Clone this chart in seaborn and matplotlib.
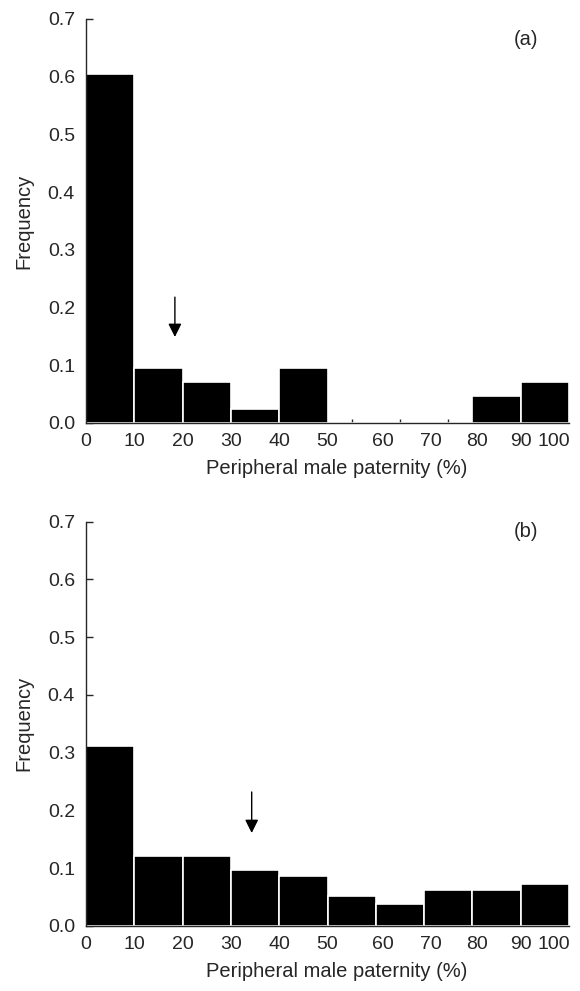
import numpy as np
import matplotlib
matplotlib.use("Agg")
import matplotlib.pyplot as plt
import matplotlib.transforms as mtransforms
import seaborn as sns

# bin edges of peripheral male paternity (%)
bin_edges = [0, 10, 20, 30, 40, 50, 60, 70, 80, 90, 100]
bin_mids = [5, 15, 25, 35, 45, 55, 65, 75, 85, 95]

# relative frequencies
freq_a = [0.605, 0.095, 0.071, 0.024, 0.095, 0.0, 0.0, 0.0, 0.047, 0.071]
freq_b = [0.312, 0.121, 0.121, 0.097, 0.087, 0.052, 0.038, 0.062, 0.062, 0.073]

# mean paternity arrows (x, y-top, y-tip)
arrow_a = (18.4, 0.218, 0.149)
arrow_b = (34.3, 0.232, 0.161)

panel_labels = ["(a)", "(b)"]
x_ticks = [0, 10, 20, 30, 40, 50, 60, 70, 80, 90, 100]
y_ticks = [0.0, 0.1, 0.2, 0.3, 0.4, 0.5, 0.6, 0.7]

sns.set_style("ticks")
plt.rcParams["font.family"] = ["Liberation Sans", "DejaVu Sans"]
plt.rcParams["font.size"] = 14

fig = plt.figure(figsize=(5.8, 9.91), dpi=100)
ax_a = fig.add_axes([0.1483, 0.5732, 0.8328, 0.4077])
ax_b = fig.add_axes([0.1483, 0.0656, 0.8328, 0.4080])

panels = [
    (ax_a, freq_a, arrow_a, panel_labels[0], 0.664),
    (ax_b, freq_b, arrow_b, panel_labels[1], 0.683),
]

# small horizontal nudges of some tick labels, as in the original (points)
label_shift = {60: 5, 70: 5, 80: 3}

for ax, freq, arrow, label, label_y in panels:
    sns.histplot(
        x=bin_mids, weights=freq, bins=bin_edges, ax=ax,
        color="black", edgecolor="white", linewidth=1.2, alpha=1.0,
    )
    ax.set_xlim(0, 100)
    ax.set_ylim(0, 0.7)
    ax.set_xticks(x_ticks)
    ax.set_xticklabels([str(t) for t in x_ticks])
    ax.set_xticks(bin_mids, minor=True)
    ax.set_yticks(y_ticks)
    ax.set_yticklabels([f"{v:.1f}" for v in y_ticks])
    ax.tick_params(axis="x", which="major", length=0, pad=7, labelsize=14)
    ax.tick_params(axis="x", which="minor", direction="in", length=3, width=1)
    ax.tick_params(axis="y", direction="in", length=5, width=1, pad=8, labelsize=14)
    for t, lab in zip(x_ticks, ax.get_xticklabels()):
        if t == 100:
            lab.set_horizontalalignment("right")
            lab.set_transform(lab.get_transform() + mtransforms.ScaledTranslation(
                1 / 72, 0, fig.dpi_scale_trans))
        elif t in label_shift:
            lab.set_transform(lab.get_transform() + mtransforms.ScaledTranslation(
                label_shift[t] / 72, 0, fig.dpi_scale_trans))
    for side in ["left", "bottom"]:
        ax.spines[side].set_linewidth(1.0)
    sns.despine(ax=ax)
    ax.set_xlabel("Peripheral male paternity (%)", fontsize=14.5, labelpad=7)
    ax.xaxis.set_label_coords(0.52, -0.09)
    ax.set_ylabel("Frequency", fontsize=14.5, labelpad=10)
    ax.annotate(
        "", xy=(arrow[0], arrow[2]), xytext=(arrow[0], arrow[1]),
        arrowprops=dict(arrowstyle="-|>", color="black", lw=1.0,
                        mutation_scale=20, shrinkA=0, shrinkB=0),
    )
    ax.text(91, label_y, label, fontsize=14.5, ha="center", va="center")

fig.savefig("out.png", dpi=100)
